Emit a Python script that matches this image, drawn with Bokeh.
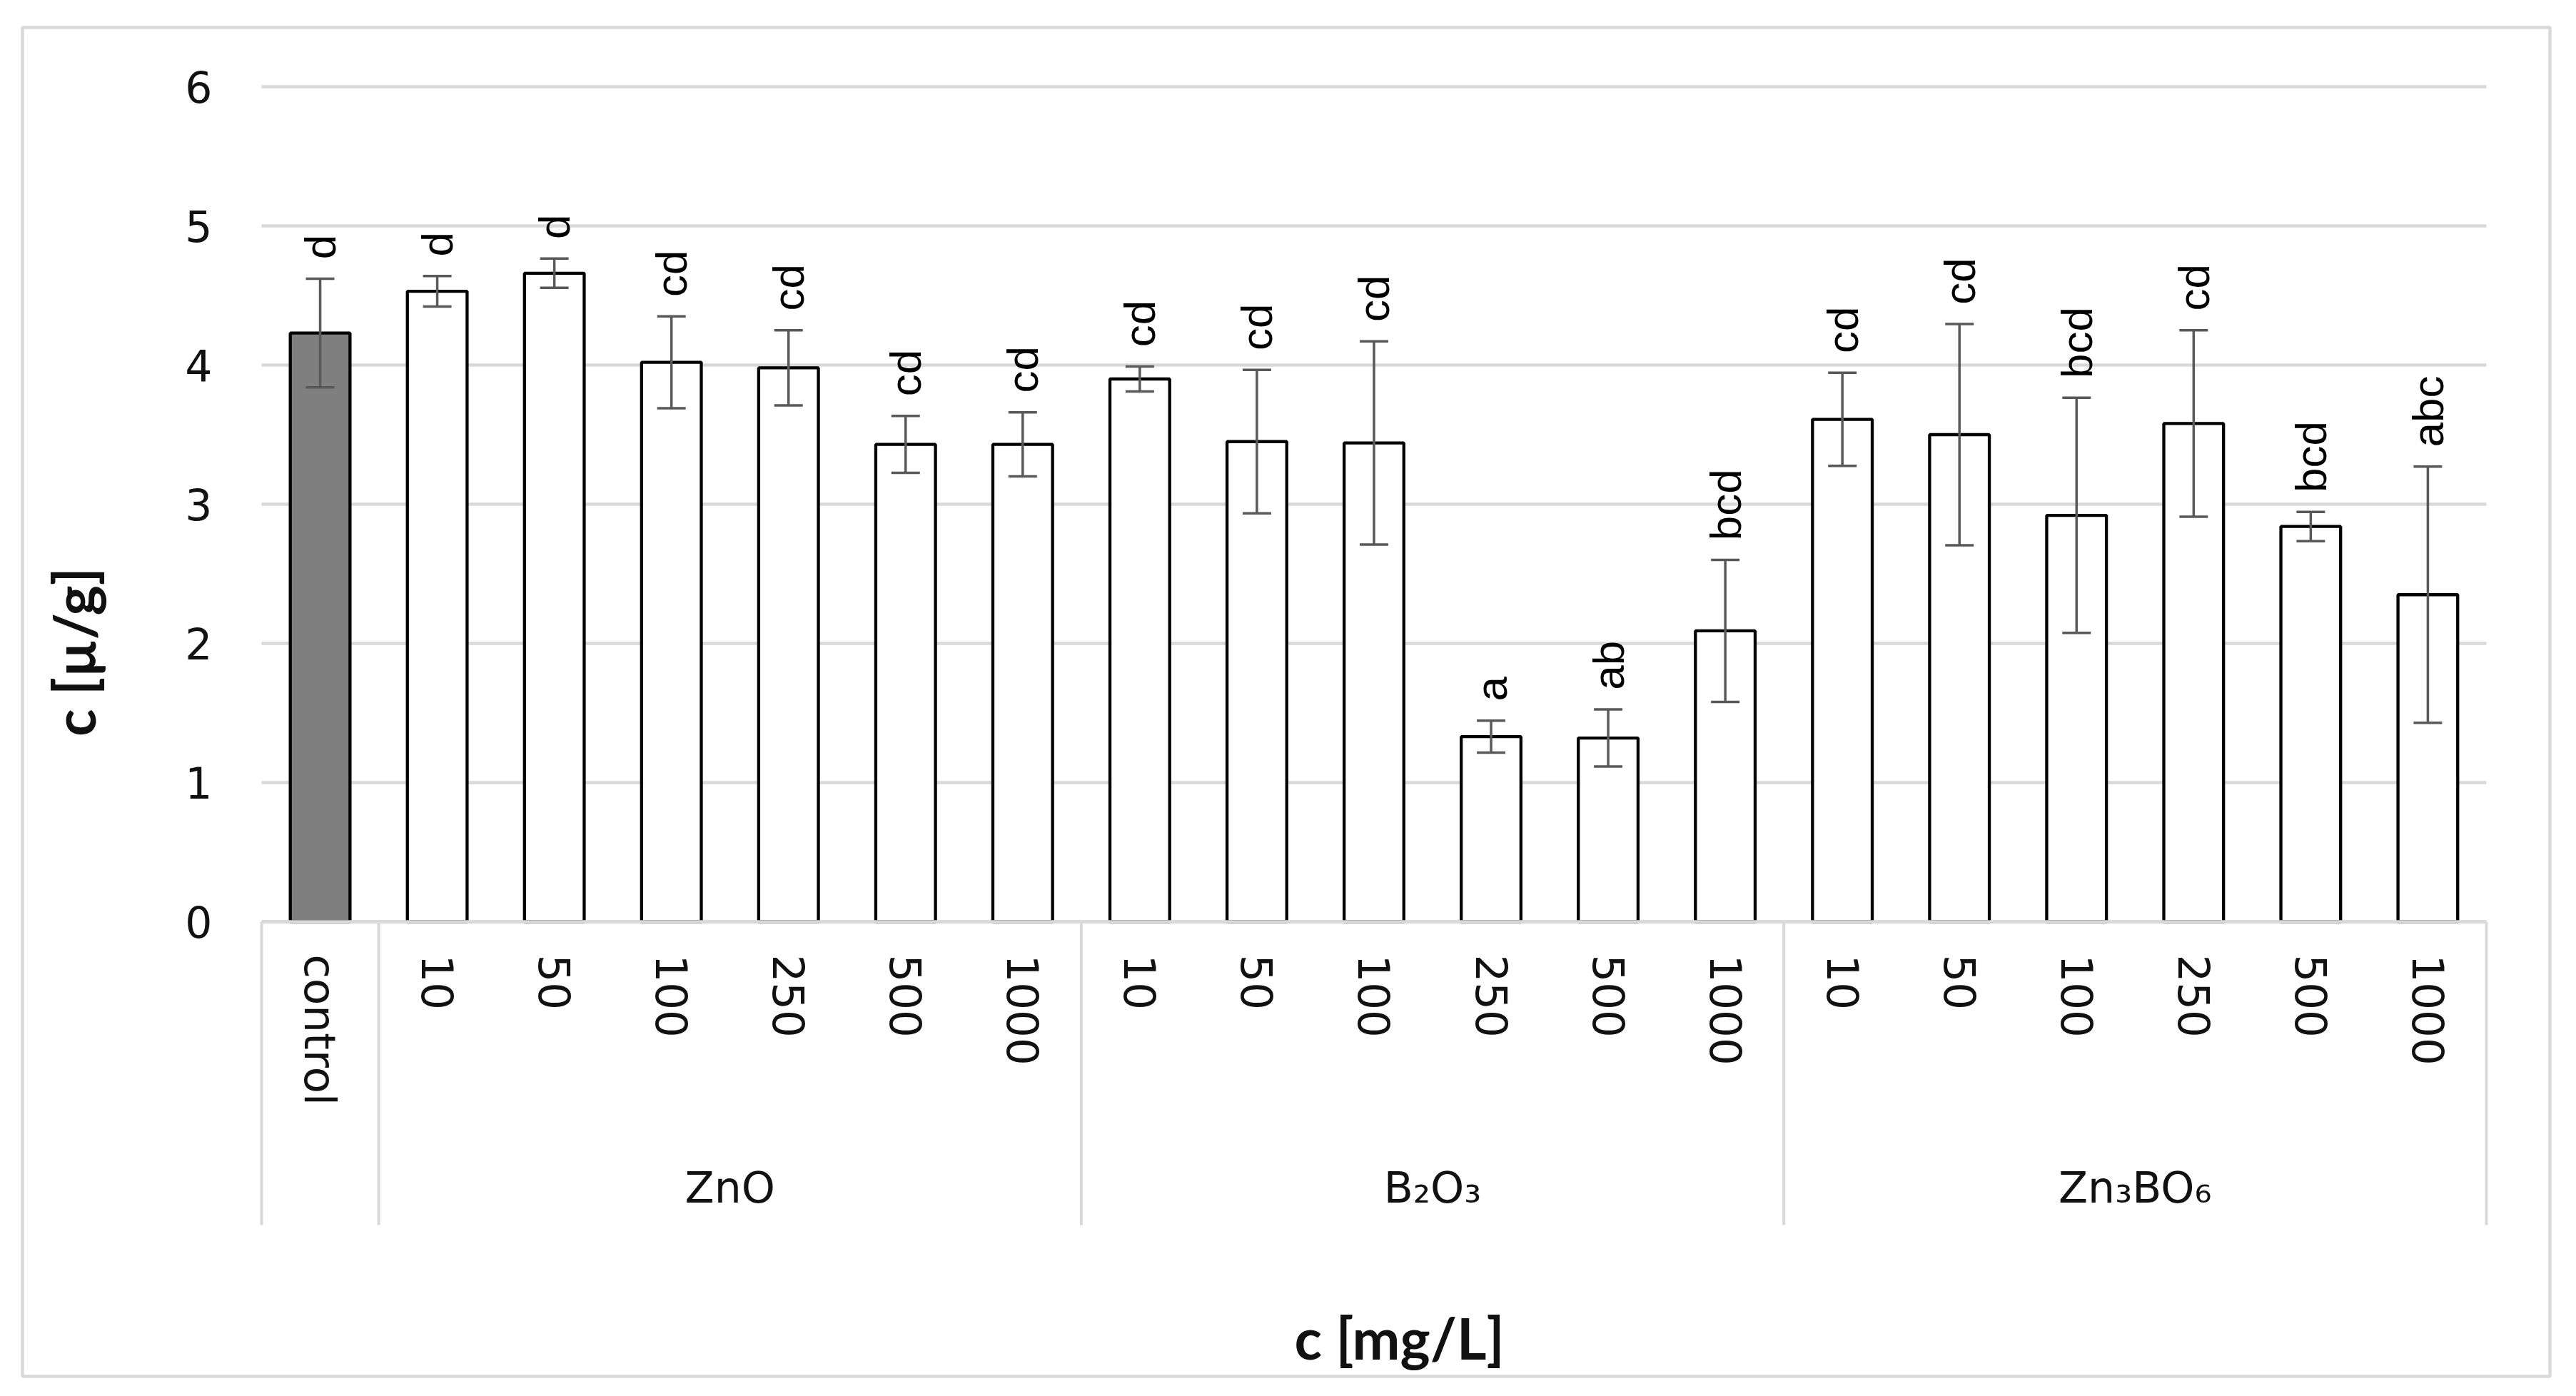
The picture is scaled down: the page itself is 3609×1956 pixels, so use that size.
import math
import numpy as np
from bokeh.plotting import figure
from bokeh.models import (Range1d, FixedTicker, CustomJSTickFormatter, ColumnDataSource,
                          Whisker, TeeHead, Label)
from bokeh.core.properties import value
from bokeh.embed import file_html
from bokeh.resources import INLINE

# ---------------- data ----------------
groups = ["control", "ZnO", "B₂O₃", "Zn₃BO₆"]
group_titles = ["", "ZnO", "B₂O₃", "Zn₃BO₆"]
group_sizes = [1, 6, 6, 6]
concentrations = ["10", "50", "100", "250", "500", "1000"]
sub_labels = ["control"] + concentrations * 3

means = [4.23, 4.53, 4.66, 4.02, 3.98, 3.43, 3.43,
         3.90, 3.45, 3.44, 1.33, 1.32, 2.09,
         3.61, 3.50, 2.92, 3.58, 2.84, 2.35]
errors = [0.39, 0.11, 0.105, 0.33, 0.27, 0.205, 0.23,
          0.09, 0.515, 0.73, 0.115, 0.205, 0.51,
          0.335, 0.795, 0.845, 0.67, 0.105, 0.92]
letters = ["d", "d", "d", "cd", "cd", "cd", "cd",
           "cd", "cd", "cd", "a", "ab", "bcd",
           "cd", "cd", "bcd", "cd", "bcd", "abc"]
y_ticks = [0, 1, 2, 3, 4, 5, 6]

# ---------------- derived ----------------
n = len(sub_labels)
xpos = np.arange(n) + 0.5
bounds = np.concatenate([[0], np.cumsum(group_sizes)])
centers = (bounds[:-1] + bounds[1:]) / 2
group_of = sum([[g] * s for g, s in zip(groups, group_sizes)], [])
means_a = np.array(means)
errs_a = np.array(errors)

GRID = "#d9d9d9"
TXT = "#111111"

p = figure(width=3593, height=1940,
           x_range=Range1d(-2.0421, 19.5428), y_range=Range1d(-3.2667, 6.4256),
           output_backend="svg", toolbar_location=None,
           min_border_left=31, min_border_right=21, min_border_top=38, min_border_bottom=12)
p.title.visible = False
p.background_fill_color = "white"
p.border_fill_color = "white"
p.outline_line_color = GRID
p.outline_line_width = 4.5
p.xgrid.grid_line_color = None
p.ygrid.grid_line_color = None

# horizontal gridlines across the plot area
p.segment(x0=[bounds[0]] * len(y_ticks), x1=[bounds[-1]] * len(y_ticks),
          y0=y_ticks, y1=y_ticks, line_color=GRID, line_width=4.5)

# category table separators
table_bottom = -2.179
p.segment(x0=bounds, x1=bounds, y0=[0] * len(bounds), y1=[table_bottom] * len(bounds),
          line_color=GRID, line_width=4)

# bars
src = ColumnDataSource(dict(
    x=xpos, top=means_a, upper=means_a + errs_a, lower=means_a - errs_a,
    lab_y=means_a + errs_a + 0.14, letter=letters,
    color=["#7f7f7f" if g == "control" else "#ffffff" for g in group_of]))
p.vbar(x="x", top="top", bottom=0, width=0.51, source=src,
       fill_color="color", line_color="black", line_width=4.3)

# error bars
w = Whisker(source=src, base="x", upper="upper", lower="lower",
            line_color="#595959", line_width=3.5, level="annotation",
            upper_head=TeeHead(size=40, line_color="#595959", line_width=3.5),
            lower_head=TeeHead(size=40, line_color="#595959", line_width=3.5))
p.add_layout(w)

# significance letters
p.text(x="x", y="lab_y", text="letter", source=src, angle=math.pi / 2,
       text_align="left", text_baseline="middle",
       text_font=value("Liberation Sans"), text_font_size=value("62px"), text_color="black")

# group labels
gx = [c for c, t in zip(centers, group_titles) if t]
gt = [t for t in group_titles if t]
p.text(x=gx, y=[-1.91] * len(gx), text=gt, text_align="center", text_baseline="middle",
       text_font=value("DejaVu Sans"), text_font_size=value("60px"), text_color=TXT)

# y axis
ya = p.yaxis[0]
ya.fixed_location = 0
ya.ticker = FixedTicker(ticks=y_ticks)
ya.axis_line_color = None
ya.major_tick_in = 0
ya.major_tick_out = 0
ya.minor_tick_line_color = None
ya.major_label_standoff = 69
ya.major_label_text_font = "DejaVu Sans"
ya.major_label_text_font_size = "60px"
ya.major_label_text_color = TXT

# x axis
xa = p.xaxis[0]
xa.fixed_location = 0
xa.bounds = (float(bounds[0]), float(bounds[-1]))
xa.ticker = FixedTicker(ticks=list(xpos))
xa.formatter = CustomJSTickFormatter(args=dict(labels=sub_labels),
                                     code="return labels[Math.floor(tick)];")
xa.major_label_orientation = "vertical"
xa.major_label_standoff = 46
xa.major_tick_in = 0
xa.major_tick_out = 0
xa.minor_tick_line_color = None
xa.axis_line_color = GRID
xa.axis_line_width = 4.5
xa.major_label_text_font = "DejaVu Sans"
xa.major_label_text_font_size = "61px"
xa.major_label_text_color = TXT

# axis titles
p.add_layout(Label(x=-1.609, y=1.938, text="c [µ/g]", angle=math.pi / 2,
                   text_align="center", text_baseline="middle", text_font="Lato",
                   text_font_style="bold", text_font_size="80px", text_color=TXT))
p.add_layout(Label(x=9.717, y=-2.985, text="c [mg/L]",
                   text_align="center", text_baseline="middle", text_font="Lato",
                   text_font_style="bold", text_font_size="80px", text_color=TXT))

open("out.html", "w").write(file_html(p, INLINE))
